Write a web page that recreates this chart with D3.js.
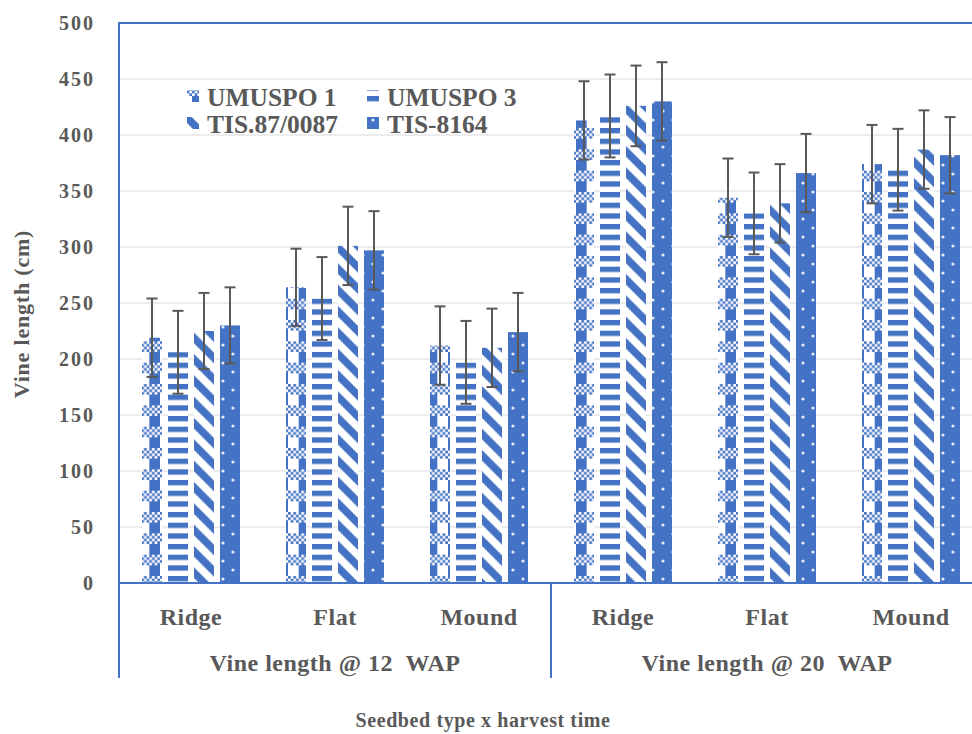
<!DOCTYPE html>
<html><head><meta charset="utf-8">
<script src="https://cdn.jsdelivr.net/npm/d3@7"></script>
<style>
body{margin:0;background:#fff;}
text{font-family:"Liberation Serif","Times New Roman",serif;font-weight:bold;fill:#595959;white-space:pre;}
</style>
</head><body>
<svg id="c" width="972" height="734"></svg>
<script>
// ---- data ----
const categories = ["Ridge", "Flat", "Mound", "Ridge", "Flat", "Mound"];
const groups = ["Vine length @ 12  WAP", "Vine length @ 20  WAP"];
const seriesNames = ["UMUSPO 1", "UMUSPO 3", "TIS.87/0087", "TIS-8164"];
const umuspo1 = [219, 264, 212, 413, 344, 374];
const umuspo3 = [206, 254, 197, 417, 330, 369];
const tis870087 = [225, 301, 210, 426, 339, 387];
const tis8164 = [230, 297, 224, 430, 366, 382];
const errUmuspo1 = [35, 34.5, 35, 35, 35, 35];
const errUmuspo3 = [37, 37, 37, 37, 36.5, 36.5];
const errTis870087 = [34, 35, 35, 36, 35, 35];
const errTis8164 = [34, 35, 35, 35, 35, 34];
const yTicks = [0, 50, 100, 150, 200, 250, 300, 350, 400, 450, 500];
const yTitle = "Vine length (cm)";
const xTitle = "Seedbed type x harvest time";

const values = [umuspo1, umuspo3, tis870087, tis8164];
const errors = [errUmuspo1, errUmuspo3, errTis870087, errTis8164];

// ---- layout ----
const BLUE = "#4472C4", GREY = "#595959";
const L = 119, R = 983, T = 23, B = 583, BOT = 678;
const svg = d3.select("#c");
const defs = svg.append("defs");

const s = 8 / 3; // pattern pixel scale
// p0: plaid-like
{
  const T0 = 8 * s;
  const p = defs.append("pattern").attr("id", "p0").attr("patternUnits", "userSpaceOnUse")
    .attr("width", T0).attr("height", T0);
  p.append("rect").attr("width", T0).attr("height", T0).attr("fill", "#fff");
  for (let r = 0; r < 4; r++) for (let c = 0; c < 8; c++) if ((r + c) % 2 === 0)
    p.append("rect").attr("x", c * s).attr("y", r * s).attr("width", s).attr("height", s).attr("fill", BLUE);
  p.append("rect").attr("x", 0).attr("y", 4 * s).attr("width", 4 * s).attr("height", 4 * s).attr("fill", BLUE);
}
// p1: horizontal stripes
{
  const T1 = 4 * s;
  const p = defs.append("pattern").attr("id", "p1").attr("patternUnits", "userSpaceOnUse")
    .attr("width", T1).attr("height", T1);
  p.append("rect").attr("width", T1).attr("height", T1).attr("fill", "#fff");
  p.append("rect").attr("width", T1).attr("height", 2 * s).attr("fill", BLUE);
}
// p2: wide downward diagonal
{
  const T2 = 8 * s;
  const p = defs.append("pattern").attr("id", "p2").attr("patternUnits", "userSpaceOnUse")
    .attr("width", T2).attr("height", T2);
  p.append("rect").attr("width", T2).attr("height", T2).attr("fill", "#fff");
  const h = T2 / 2;
  p.append("polygon").attr("points", `0,0 ${h},0 ${T2},${h} ${T2},${T2}`).attr("fill", BLUE);
  p.append("polygon").attr("points", `0,${h} ${h},${T2} 0,${T2}`).attr("fill", BLUE);
}
// p3: dotted
{
  const W3 = 20, H3 = 18;
  const p = defs.append("pattern").attr("id", "p3").attr("patternUnits", "userSpaceOnUse")
    .attr("width", W3).attr("height", H3);
  p.append("rect").attr("width", W3).attr("height", H3).attr("fill", BLUE);
  p.append("circle").attr("cx", 3).attr("cy", 3).attr("r", 1.6).attr("fill", "#e6ecf8");
  p.append("circle").attr("cx", 13).attr("cy", 12).attr("r", 1.6).attr("fill", "#e6ecf8");
}

const y = d3.scaleLinear().domain([0, 500]).range([B, T]);
const x0 = d3.scaleBand().domain(d3.range(categories.length)).range([L, R]);
const x1 = d3.scaleBand().domain(seriesNames).range([23, 121]).paddingInner(6 / 26);
const xg = d3.scaleBand().domain(groups).range([L, R]);

// gridlines
svg.append("g").selectAll("line").data(yTicks.filter(t => t > 0 && t < 500)).join("line")
  .attr("x1", L).attr("x2", R).attr("y1", d => y(d)).attr("y2", d => y(d))
  .attr("stroke", "#d9d9d9").attr("stroke-width", 1.2);

// y axis labels
const ya = svg.append("g").attr("transform", `translate(${L},0)`)
  .call(d3.axisLeft(y).tickValues(yTicks).tickSize(0).tickPadding(24));
ya.select(".domain").remove();
ya.selectAll("text").style("font-size", "20px").style("letter-spacing", "2px")
  .style("font-family", '"Liberation Serif","Times New Roman",serif').style("font-weight", "bold")
  .attr("fill", GREY).attr("dy", "0.34em");

// bars
const barG = svg.append("g");
seriesNames.forEach((name, si) => {
  barG.append("g").selectAll("rect").data(values[si]).join("rect")
    .attr("x", (d, i) => x0(i) + x1(name))
    .attr("y", d => y(d))
    .attr("width", x1.bandwidth())
    .attr("height", d => y(0) - y(d))
    .attr("fill", `url(#p${si})`);
});

// error bars
seriesNames.forEach((name, si) => {
  const g = barG.append("g").attr("stroke", GREY).attr("stroke-width", 2);
  values[si].forEach((v, i) => {
    const cx = x0(i) + x1(name) + x1.bandwidth() / 2;
    const e = errors[si][i];
    g.append("line").attr("x1", cx).attr("x2", cx).attr("y1", y(v - e)).attr("y2", y(v + e));
    g.append("line").attr("x1", cx - 5.5).attr("x2", cx + 5.5).attr("y1", y(v - e)).attr("y2", y(v - e));
    g.append("line").attr("x1", cx - 5.5).attr("x2", cx + 5.5).attr("y1", y(v + e)).attr("y2", y(v + e));
  });
});

// frame
const fr = svg.append("g").attr("stroke", BLUE).attr("stroke-width", 2).attr("fill", "none");
fr.append("line").attr("x1", L).attr("x2", L).attr("y1", T - 1).attr("y2", BOT);
fr.append("line").attr("x1", L).attr("x2", R).attr("y1", T).attr("y2", T);
fr.append("line").attr("x1", R).attr("x2", R).attr("y1", T).attr("y2", BOT);
fr.append("line").attr("x1", L).attr("x2", R).attr("y1", B).attr("y2", B);
fr.append("line").attr("x1", xg.bandwidth() + L).attr("x2", xg.bandwidth() + L).attr("y1", B).attr("y2", BOT);

// category labels
svg.append("g").selectAll("text").data(categories).join("text")
  .attr("x", (d, i) => x0(i) + x0.bandwidth() / 2).attr("y", 625)
  .attr("text-anchor", "middle").style("font-size", "24px").style("letter-spacing", "0.5px").text(d => d);

// group labels
svg.append("g").selectAll("text").data(groups).join("text")
  .attr("x", d => xg(d) + xg.bandwidth() / 2).attr("y", 671)
  .attr("text-anchor", "middle").style("font-size", "24px").style("letter-spacing", "0.5px").text(d => d);

// axis titles
svg.append("text").attr("x", 483).attr("y", 727).attr("text-anchor", "middle")
  .style("font-size", "20px").style("letter-spacing", "0.6px").text(xTitle);
svg.append("text").attr("transform", "translate(29,314) rotate(-90)").attr("text-anchor", "middle")
  .style("font-size", "22px").style("letter-spacing", "0.8px").text(yTitle);

// legend
const legPos = [[187, 106], [367, 106], [187, 133], [367, 133]];
const leg = svg.append("g");
seriesNames.forEach((name, si) => {
  const [lx, ly] = legPos[si];
  leg.append("rect").attr("x", lx).attr("y", ly - 16).attr("width", 12).attr("height", 12)
    .attr("fill", `url(#p${si})`);
  leg.append("text").attr("x", lx + 20).attr("y", ly).style("font-size", "25.5px").text(name);
});
</script>
</body></html>
